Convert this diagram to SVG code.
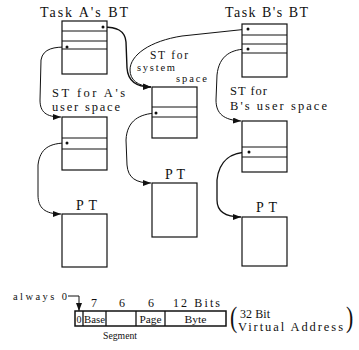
<svg xmlns="http://www.w3.org/2000/svg" width="359" height="350" viewBox="0 0 359 350">
<defs>
<style>
.t{font-family:"Liberation Serif","DejaVu Serif","Times New Roman",serif;fill:#111}
.box{fill:#fff;stroke:#111;stroke-width:1.2}
.row{stroke:#111;stroke-width:1}
.c{fill:none;stroke:#111;stroke-width:1}
.dot{fill:#111}
</style>
<marker id="ar" viewBox="0 0 8 6" refX="8" refY="3" markerWidth="8" markerHeight="6" orient="auto" markerUnits="userSpaceOnUse">
<path d="M0,0 L8,3 L0,6 z" fill="#111"/>
</marker>
</defs>
<rect width="359" height="350" fill="#fff"/>

<g id="connectors">
<path class="c" style="stroke-width:1.4" d="M103,27 C116,27 125,30 126,42 L127,68 C128,82 138,87 151,87" marker-end="url(#ar)"/>
<path class="c" d="M248,29 L182,36 C150,41 130,55 130,70 C130,80 138,86 151,87" marker-end="url(#ar)"/>
<path class="c" d="M67,47 C55,47 43,48 41,60 L40,100 C40,112 46,117 61,117" marker-end="url(#ar)"/>
<path class="c" d="M67,143 C50,143 40,148 38,165 L38,195 C38,208 45,214 61,214" marker-end="url(#ar)"/>
<path class="c" d="M156,113 C140,114 127,120 126,140 L127,165 C128,178 136,183 151,183" marker-end="url(#ar)"/>
<path class="c" d="M248,49 C232,49 219,55 217,75 L216,100 C216,114 224,120 241,121" marker-end="url(#ar)"/>
<path class="c" style="stroke-width:1.3" d="M249,152 C232,152 219,160 217,180 L217,200 C217,212 225,217 241,217" marker-end="url(#ar)"/>
<path class="c" d="M68,296 L79,296 L79,311" marker-end="url(#ar)"/>
</g>

<g id="taskA_BT">
<text class="t" x="40" y="17" font-size="14" textLength="88" lengthAdjust="spacing">Task A's BT</text>
<rect class="box" x="62" y="21" width="45" height="53"/>
<line class="row" x1="62" y1="31" x2="107" y2="31"/>
<line class="row" x1="62" y1="41" x2="107" y2="41"/>
<line class="row" x1="62" y1="49" x2="107" y2="49"/>
<circle class="dot" cx="103" cy="27" r="1.5"/>
<circle class="dot" cx="67" cy="47" r="1.5"/>
</g>

<g id="taskB_BT">
<text class="t" x="225" y="17" font-size="14" textLength="83" lengthAdjust="spacing">Task B's BT</text>
<rect class="box" x="242" y="24" width="45" height="53"/>
<line class="row" x1="242" y1="35" x2="287" y2="35"/>
<line class="row" x1="242" y1="44" x2="287" y2="44"/>
<line class="row" x1="242" y1="53" x2="287" y2="53"/>
<circle class="dot" cx="248" cy="29" r="1.5"/>
<circle class="dot" cx="248" cy="49" r="1.5"/>
</g>

<g id="ST_A">
<text class="t" x="52" y="97" font-size="12.5" textLength="73" lengthAdjust="spacing">ST for A's</text>
<text class="t" x="52" y="111" font-size="12.5" textLength="68" lengthAdjust="spacing">user space</text>
<rect class="box" x="62" y="117" width="45" height="53"/>
<line class="row" x1="62" y1="138" x2="107" y2="138"/>
<line class="row" x1="62" y1="149" x2="107" y2="149"/>
<circle class="dot" cx="67" cy="143" r="1.5"/>
</g>

<g id="ST_sys">
<text class="t" x="150" y="59" font-size="11.5" textLength="38" lengthAdjust="spacing">ST for</text>
<text class="t" x="137" y="71" font-size="10.5" textLength="38" lengthAdjust="spacing">system</text>
<text class="t" x="176" y="82" font-size="10.5" textLength="31" lengthAdjust="spacing">space</text>
<rect class="box" x="152" y="87" width="45" height="51"/>
<line class="row" x1="152" y1="107" x2="197" y2="107"/>
<line class="row" x1="152" y1="117" x2="197" y2="117"/>
<circle class="dot" cx="156" cy="113" r="1.5"/>
</g>

<g id="ST_B">
<text class="t" x="230" y="95" font-size="12.5" textLength="37" lengthAdjust="spacing">ST for</text>
<text class="t" x="230" y="110" font-size="12.5" textLength="97" lengthAdjust="spacing">B's user space</text>
<rect class="box" x="242" y="121" width="45" height="51"/>
<line class="row" x1="242" y1="147" x2="287" y2="147"/>
<line class="row" x1="242" y1="157" x2="287" y2="157"/>
<circle class="dot" cx="249" cy="152" r="1.5"/>
</g>

<g id="PT_A">
<text class="t" x="76" y="210" font-size="14" textLength="21" lengthAdjust="spacing">PT</text>
<rect class="box" x="62" y="214" width="45" height="53"/>
</g>

<g id="PT_sys">
<text class="t" x="165" y="179" font-size="14" textLength="20" lengthAdjust="spacing">PT</text>
<rect class="box" x="152" y="183" width="45" height="54"/>
</g>

<g id="PT_B">
<text class="t" x="256" y="212" font-size="14" textLength="21" lengthAdjust="spacing">PT</text>
<rect class="box" x="242" y="217" width="45" height="49"/>
</g>

<g id="address">
<text class="t" x="13" y="300" font-size="10.5" textLength="54" lengthAdjust="spacing">always 0</text>
<text class="t" x="94" y="307" font-size="12" text-anchor="middle">7</text>
<text class="t" x="122" y="307" font-size="12" text-anchor="middle">6</text>
<text class="t" x="151" y="307" font-size="12" text-anchor="middle">6</text>
<text class="t" x="173" y="307" font-size="12" textLength="47" lengthAdjust="spacing">12 Bits</text>
<rect x="75" y="311" width="151" height="15" fill="#fff" stroke="#111" stroke-width="1.5"/>
<line class="row" x1="83" y1="311" x2="83" y2="326" style="stroke-width:1.3"/>
<line class="row" x1="106" y1="311" x2="106" y2="326" style="stroke-width:1.3"/>
<line class="row" x1="136" y1="311" x2="136" y2="326" style="stroke-width:1.3"/>
<line class="row" x1="165" y1="311" x2="165" y2="326" style="stroke-width:1.3"/>
<text class="t" x="79" y="322.5" font-size="10" text-anchor="middle">0</text>
<text class="t" x="94.5" y="322.5" font-size="10" text-anchor="middle" textLength="21" lengthAdjust="spacingAndGlyphs">Base</text>
<text class="t" x="150.5" y="322.5" font-size="10" text-anchor="middle" textLength="22" lengthAdjust="spacingAndGlyphs">Page</text>
<text class="t" x="195.5" y="322.5" font-size="10" text-anchor="middle" textLength="22" lengthAdjust="spacingAndGlyphs">Byte</text>
<text class="t" x="103" y="339" font-size="10" textLength="34" lengthAdjust="spacingAndGlyphs">Segment</text>
<text class="t" x="230" y="327" font-size="29" transform="translate(230 0) scale(0.75 1) translate(-230 0)">(</text>
<text class="t" x="240" y="318" font-size="12" textLength="30" lengthAdjust="spacing">32 Bit</text>
<text class="t" x="238" y="331" font-size="12.5" textLength="105" lengthAdjust="spacing">Virtual Address</text>
<text class="t" x="346" y="327" font-size="29" transform="translate(346 0) scale(0.75 1) translate(-346 0)">)</text>
</g>
</svg>
